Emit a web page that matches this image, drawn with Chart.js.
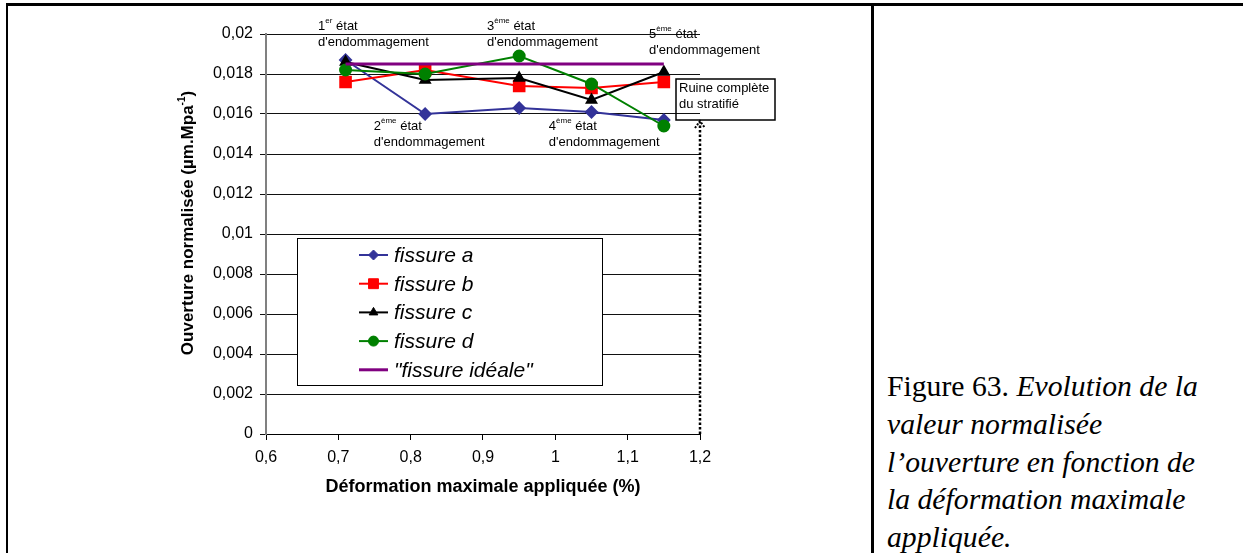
<!DOCTYPE html>
<html>
<head>
<meta charset="utf-8">
<script src="https://cdn.jsdelivr.net/npm/chart.js@4.4.1/dist/chart.umd.min.js"></script>
<style>
  html, body { margin: 0; padding: 0; background: #fff; }
  body { width: 1243px; height: 553px; position: relative; overflow: hidden; }
  #chart { position: absolute; left: 0; top: 0; }
  .rule { position: absolute; background: #000; }
  .caption { position: absolute; left: 887px; font-family: "Liberation Serif", "Times New Roman", serif; font-size: 29.7px; line-height: 37.75px; white-space: nowrap; color: #000; }
  .caption i { font-style: italic; }
</style>
</head>
<body>
<div class="rule" style="left:6px; top:3px; width:1237px; height:3px;"></div>
<div class="rule" style="left:6px; top:3px; width:2px; height:550px;"></div>
<div class="rule" style="left:871px; top:3px; width:3px; height:550px;"></div>
<div class="caption" style="top:368px;">Figure 63. <i>Evolution de la</i></div>
<div class="caption" style="top:406px;"><i>valeur normalisée</i></div>
<div class="caption" style="top:444px;"><i>l’ouverture en fonction de</i></div>
<div class="caption" style="top:481px;"><i>la déformation maximale</i></div>
<div class="caption" style="top:519px;"><i>appliquée.</i></div>
<canvas id="chart" width="873" height="553"></canvas>
<script>
const deformation = [0.71, 0.82, 0.95, 1.05, 1.15];
const fissureA = [0.0187, 0.0160, 0.0163, 0.0161, 0.0157];
const fissureB = [0.0176, 0.0182, 0.0174, 0.0173, 0.0176];
const fissureC = [0.0186, 0.0177, 0.0178, 0.0167, 0.0181];
const fissureD = [0.0182, 0.0180, 0.0189, 0.0175, 0.0154];
const fissureIdeale = [0.0185, 0.0185, 0.0185, 0.0185, 0.0185];
const seriesNames = ["fissure a", "fissure b", "fissure c", "fissure d", "\"fissure idéale\""];

// damage-state labels, anchored in data units (x, y of first line)
const etatLabels = [
  { x: 0.672, y: 0.0204, num: "1", sup: "er" },
  { x: 0.749, y: 0.0154, num: "2", sup: "ème" },
  { x: 0.9055, y: 0.0204, num: "3", sup: "ème" },
  { x: 0.991, y: 0.0154, num: "4", sup: "ème" },
  { x: 1.1295, y: 0.0200, num: "5", sup: "ème" }
];
const ruptureX = 1.2;
const ruptureTop = 0.01565;

const SANS = '"Liberation Sans", Arial, sans-serif';
const pts = (ys) => deformation.map((x, i) => ({ x: x, y: ys[i] }));
const fmt = (v, d) => String(+v.toFixed(d)).replace(".", ",");

function drawParts(ctx, x, y, parts, size) {
  // parts: [text, isSuperscript]
  let cx = x;
  parts.forEach(([t, sup]) => {
    ctx.font = (sup ? Math.round(size * 0.62) : size) + "px " + SANS;
    ctx.fillText(t, cx, sup ? y - size * 0.38 : y);
    cx += ctx.measureText(t).width;
  });
}

const overlay = {
  id: "overlay",
  afterDraw(chart) {
    const ctx = chart.ctx;
    const xs = chart.scales.x, ys = chart.scales.y;
    const area = chart.chartArea;
    ctx.save();
    ctx.fillStyle = "#000";
    ctx.textBaseline = "middle";
    ctx.textAlign = "left";

    // damage state annotations
    etatLabels.forEach(l => {
      const px = xs.getPixelForValue(l.x), py = ys.getPixelForValue(l.y);
      drawParts(ctx, px, py, [[l.num, false], [l.sup, true], [" état", false]], 13);
      drawParts(ctx, px, py + 16, [["d'endommagement", false]], 13);
    });

    // rupture arrow
    const ax = xs.getPixelForValue(ruptureX);
    const aTop = ys.getPixelForValue(ruptureTop);
    ctx.strokeStyle = "#000";
    ctx.lineWidth = 2.5;
    ctx.setLineDash([2.5, 2]);
    ctx.beginPath();
    ctx.moveTo(ax, ys.getPixelForValue(0));
    ctx.lineTo(ax, aTop + 1);
    ctx.stroke();
    ctx.setLineDash([2, 1.5]);
    ctx.lineWidth = 2;
    ctx.beginPath();
    ctx.moveTo(ax - 5, aTop + 7);
    ctx.lineTo(ax, aTop);
    ctx.lineTo(ax + 5, aTop + 7);
    ctx.stroke();
    ctx.setLineDash([]);

    // "Ruine complète" box
    const bx = ax - 24, by = aTop - 42;
    ctx.lineWidth = 1.5;
    ctx.strokeRect(bx, by, 99, 41);
    drawParts(ctx, bx + 3, by + 9, [["Ruine complète", false]], 13);
    drawParts(ctx, bx + 3, by + 25, [["du stratifié", false]], 13);

    // legend
    const lx = area.left + 31, ly = area.top + 204;
    ctx.fillStyle = "#fff";
    ctx.fillRect(lx, ly, 305, 147);
    ctx.strokeStyle = "#000";
    ctx.lineWidth = 1;
    ctx.strokeRect(lx + 0.5, ly + 0.5, 305, 147);
    chart.data.datasets.forEach((ds, i) => {
      const ry = ly + 17 + i * 28.7;
      const sx = lx + 62;
      ctx.strokeStyle = ds.borderColor;
      ctx.lineWidth = ds.borderWidth;
      ctx.beginPath();
      ctx.moveTo(sx, ry);
      ctx.lineTo(sx + 29, ry);
      ctx.stroke();
      if (ds.pointRadius > 0) {
        ctx.fillStyle = ds.pointBackgroundColor;
        ctx.strokeStyle = ds.borderColor;
        ctx.lineWidth = 1;
        Chart.helpers.drawPoint(ctx, { pointStyle: ds.pointStyle, radius: ds.legendRadius, rotation: 0, borderWidth: 1 }, sx + 14.5, ry);
      }
      ctx.fillStyle = "#000";
      ctx.font = "italic 21px " + SANS;
      ctx.fillText(ds.label, lx + 97, ry + 1);
    });

    // axis titles
    ctx.fillStyle = "#000";
    ctx.font = "bold 18px " + SANS;
    ctx.textAlign = "center";
    ctx.fillText("Déformation maximale appliquée (%)", (area.left + area.right) / 2, 487);

    ctx.save();
    ctx.translate(188, 223);
    ctx.rotate(-Math.PI / 2);
    ctx.textAlign = "left";
    const p1 = "Ouverture normalisée (µm.Mpa", p2 = "-1", p3 = ")";
    ctx.font = "bold 17px " + SANS;
    const w1 = ctx.measureText(p1).width, w3 = ctx.measureText(p3).width;
    ctx.font = "bold 10px " + SANS;
    const w2 = ctx.measureText(p2).width;
    let cx = -(w1 + w2 + w3) / 2;
    ctx.font = "bold 17px " + SANS;
    ctx.fillText(p1, cx, 0); cx += w1;
    ctx.font = "bold 10px " + SANS;
    ctx.fillText(p2, cx, -6); cx += w2;
    ctx.font = "bold 17px " + SANS;
    ctx.fillText(p3, cx, 0);
    ctx.restore();

    ctx.restore();
  }
};

new Chart(document.getElementById("chart"), {
  type: "line",
  data: {
    datasets: [
      { label: seriesNames[0], data: pts(fissureA), borderColor: "#333399", pointBackgroundColor: "#333399", pointBorderColor: "#333399", borderWidth: 2, pointStyle: "rectRot", pointRadius: 5.5, legendRadius: 5, order: 4 },
      { label: seriesNames[1], data: pts(fissureB), borderColor: "#ff0000", pointBackgroundColor: "#ff0000", pointBorderColor: "#ff0000", borderWidth: 2, pointStyle: "rect", pointRadius: 7.5, legendRadius: 7, order: 3 },
      { label: seriesNames[2], data: pts(fissureC), borderColor: "#000000", pointBackgroundColor: "#000000", pointBorderColor: "#000000", borderWidth: 2, pointStyle: "triangle", pointRadius: 5.5, legendRadius: 5, order: 2 },
      { label: seriesNames[3], data: pts(fissureD), borderColor: "#008000", pointBackgroundColor: "#008000", pointBorderColor: "#008000", borderWidth: 2, pointStyle: "circle", pointRadius: 5.5, legendRadius: 5, order: 1 },
      { label: seriesNames[4], data: pts(fissureIdeale), borderColor: "#800080", pointBackgroundColor: "#800080", borderWidth: 3, pointRadius: 0, legendRadius: 0, order: 0 }
    ]
  },
  options: {
    responsive: false,
    animation: false,
    devicePixelRatio: 1,
    layout: { padding: { left: 0, top: 34, right: 173, bottom: 0 } },
    plugins: { legend: { display: false }, tooltip: { enabled: false }, title: { display: false } },
    elements: { line: { tension: 0 }, point: { borderWidth: 1, hoverRadius: 0 } },
    scales: {
      x: {
        type: "linear",
        min: 0.6,
        max: 1.2,
        afterFit: (s) => { s.height = 119; },
        ticks: { stepSize: 0.1, color: "#000", font: { family: SANS, size: 16 }, padding: 8, maxRotation: 0, callback: (v) => fmt(v, 1) },
        grid: { drawOnChartArea: false, drawTicks: true, tickLength: 6, color: "#000" },
        border: { color: "#000", width: 1 }
      },
      y: {
        min: 0,
        max: 0.02,
        afterFit: (s) => { s.width = 266; },
        ticks: { stepSize: 0.002, color: "#000", font: { family: SANS, size: 16 }, padding: 7, callback: (v) => fmt(v, 3) },
        grid: { drawTicks: true, tickLength: 6, color: "#111", lineWidth: 1 },
        border: { color: "#808080", width: 2 }
      }
    }
  },
  plugins: [overlay]
});
</script>
</body>
</html>
